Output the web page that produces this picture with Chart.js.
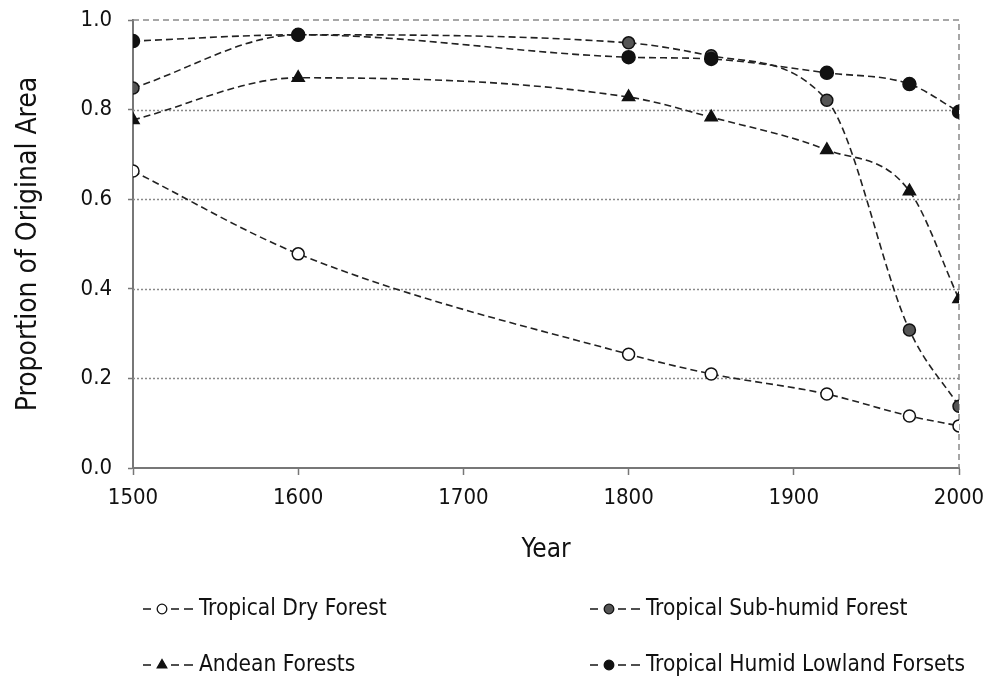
<!DOCTYPE html>
<html>
<head>
<meta charset="utf-8">
<script src="https://cdn.jsdelivr.net/npm/chart.js@4.4.1/dist/chart.umd.min.js"></script>
<style>
  html, body { margin: 0; padding: 0; background: #fff; }
  #wrap { width: 986px; height: 679px; }
</style>
</head>
<body>
<div id="wrap"><canvas id="forestChart" width="986" height="679"></canvas></div>
<script>
// values
const years = [1500, 1600, 1800, 1850, 1920, 1970, 2000];
const dryForest = [0.663, 0.478, 0.254, 0.210, 0.165, 0.116, 0.094];
const subHumidForest = [0.848, 0.967, 0.949, 0.920, 0.821, 0.308, 0.138];
const andeanForests = [0.777, 0.871, 0.828, 0.783, 0.710, 0.618, 0.377];
const humidLowland = [0.953, 0.967, 0.917, 0.913, 0.882, 0.857, 0.795];
const xTicks = [1500, 1600, 1700, 1800, 1900, 2000];
const yTicks = [0, 0.2, 0.4, 0.6, 0.8, 1.0];

const FONT = '"DejaVu Sans Condensed", "DejaVu Sans", sans-serif';
const LINE = '#222';

const toPoints = vals => vals.map((v, i) => ({ x: years[i], y: v }));

const makeSet = (label, vals, style, fill, radius, order) => ({
    label: label,
    data: toPoints(vals),
    order: order,
    borderColor: LINE,
    borderWidth: 1.6,
    borderDash: [7, 4],
    cubicInterpolationMode: 'monotone',
    pointStyle: style,
    pointRadius: radius,
    pointBackgroundColor: fill,
    pointBorderColor: '#111',
    pointBorderWidth: 1.5,
});

// humid lowland markers sit on top where they overlap (1600, 1850)
const datasets = [
    makeSet('Tropical Dry Forest', dryForest, 'circle', '#fff', 6, 1),
    makeSet('Tropical Sub-humid Forest', subHumidForest, 'circle', '#555', 6, 3),
    makeSet('Andean Forests', andeanForests, 'triangle', '#111', 7, 2),
    makeSet('Tropical Humid Lowland Forsets', humidLowland, 'circle', '#111', 6.5, 0),
];

// dotted grid lines and dashed top/right frame
const framePlugin = {
    id: 'frame',
    beforeDatasetsDraw(chart) {
        const { ctx, chartArea: a, scales } = chart;
        ctx.save();
        ctx.strokeStyle = '#8a8a8a';
        ctx.lineWidth = 1.5;
        ctx.setLineDash([2, 2]);
        yTicks.slice(1, -1).forEach(t => {
            const y = Math.round(scales.y.getPixelForValue(t)) + 0.5;
            ctx.beginPath();
            ctx.moveTo(a.left, y);
            ctx.lineTo(a.right, y);
            ctx.stroke();
        });
        ctx.setLineDash([6, 4]);
        ctx.beginPath();
        ctx.moveTo(a.left, a.top);
        ctx.lineTo(a.right, a.top);
        ctx.lineTo(a.right, a.bottom);
        ctx.stroke();
        ctx.restore();
    }
};

// two-column legend under the axis title
const legendPlugin = {
    id: 'gridLegend',
    afterDraw(chart) {
        const { ctx } = chart;
        const cols = [143, 590];
        const rows = [609, 665];
        ctx.save();
        chart.data.datasets.forEach((ds, i) => {
            const x = cols[i % 2];
            const y = rows[Math.floor(i / 2)];
            ctx.strokeStyle = LINE;
            ctx.lineWidth = 1.6;
            ctx.setLineDash([]);
            [[x, x + 8], [x + 28, x + 36], [x + 41, x + 50]].forEach(s => {
                ctx.beginPath();
                ctx.moveTo(s[0], y);
                ctx.lineTo(s[1], y);
                ctx.stroke();
            });
            ctx.fillStyle = ds.pointBackgroundColor;
            ctx.strokeStyle = ds.pointBorderColor;
            ctx.lineWidth = 1.3;
            Chart.helpers.drawPoint(ctx, {
                pointStyle: ds.pointStyle,
                radius: ds.pointStyle === 'triangle' ? 5.5 : 4.8,
                borderWidth: 1.3,
                rotation: 0
            }, x + 19, y);
            ctx.fillStyle = '#111';
            ctx.font = '22.5px ' + FONT;
            ctx.textBaseline = 'middle';
            ctx.fillText(ds.label, x + 56, y);
        });
        ctx.restore();
    }
};

new Chart(document.getElementById('forestChart'), {
    type: 'line',
    data: { datasets: datasets },
    options: {
        responsive: false,
        animation: false,
        layout: { padding: { left: 0, right: 27, top: 20, bottom: 113 } },
        plugins: {
            legend: { display: false },
            tooltip: { enabled: false },
        },
        scales: {
            x: {
                type: 'linear',
                min: 1500,
                max: 2000,
                afterBuildTicks: s => { s.ticks = xTicks.map(v => ({ value: v })); },
                afterFit: s => {
                    s.height = 98;
                    s.paddingLeft = 0;
                    s.paddingRight = 0;
                },
                grid: { drawOnChartArea: false, tickLength: 7, tickColor: '#777', tickWidth: 1.5 },
                border: { color: '#777', width: 2 },
                ticks: {
                    color: '#111',
                    padding: 10,
                    font: { family: FONT, size: 22 },
                    callback: v => String(v),
                },
                title: {
                    display: true,
                    text: 'Year',
                    color: '#111',
                    padding: { top: 0, bottom: 0 },
                    font: { family: FONT, size: 26 },
                },
            },
            y: {
                min: 0,
                max: 1,
                afterBuildTicks: s => { s.ticks = yTicks.map(v => ({ value: v })); },
                afterFit: s => {
                    s.width = 133;
                    s.paddingTop = 0;
                    s.paddingBottom = 0;
                },
                grid: { drawOnChartArea: false, tickLength: 5, tickColor: '#777', tickWidth: 1.5 },
                border: { color: '#777', width: 2 },
                ticks: {
                    color: '#111',
                    padding: 16,
                    font: { family: FONT, size: 22 },
                    callback: v => v.toFixed(1),
                },
                title: {
                    display: true,
                    text: 'Proportion of Original Area',
                    color: '#111',
                    padding: { top: 12, bottom: 0 },
                    font: { family: FONT, size: 28 },
                },
            },
        },
    },
    plugins: [framePlugin, legendPlugin],
});
</script>
</body>
</html>
